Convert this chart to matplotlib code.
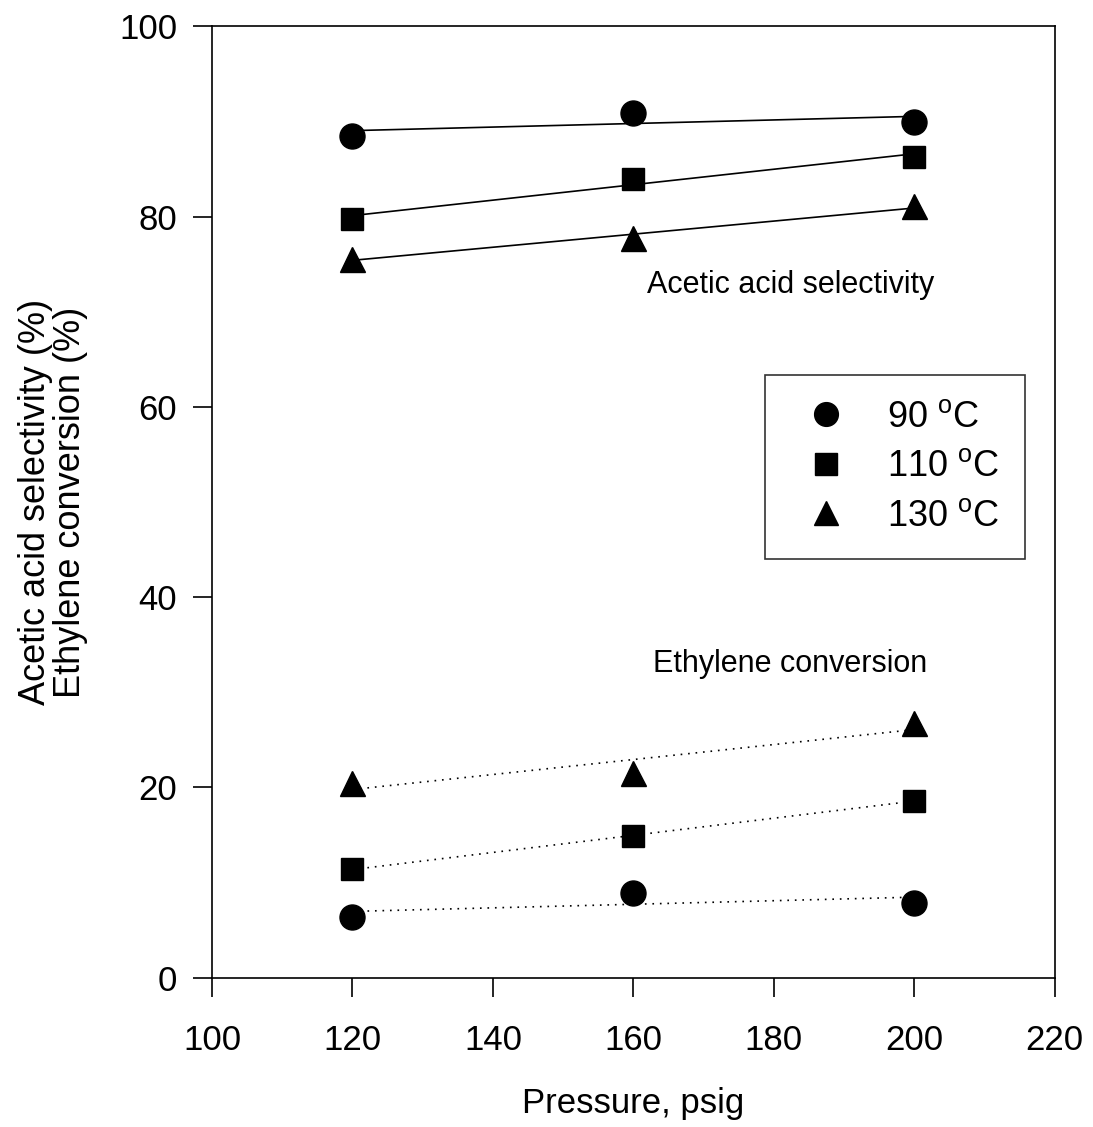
import numpy as np
import matplotlib
matplotlib.use("Agg")
import matplotlib.pyplot as plt
from matplotlib.lines import Line2D

plt.rcParams["font.family"] = ["Liberation Sans", "DejaVu Sans"]
plt.rcParams["mathtext.fontset"] = "custom"
plt.rcParams["mathtext.rm"] = "Liberation Sans"

# data
pressure = [120, 160, 200]
temps = ["90", "110", "130"]
selectivity_90 = [88.5, 90.9, 90.0]
selectivity_110 = [79.8, 84.0, 86.3]
selectivity_130 = [75.6, 77.8, 81.1]
conversion_90 = [6.4, 8.85, 7.9]
conversion_110 = [11.4, 14.9, 18.6]
conversion_130 = [20.5, 21.5, 26.8]

markers = ["o", "s", "^"]
msizes = [18, 16, 18]

fig = plt.figure(figsize=(10.93, 11.27), dpi=100)
ax = fig.add_axes([0.194, 0.1325, 0.771, 0.844])

sel = [selectivity_90, selectivity_110, selectivity_130]
conv = [conversion_90, conversion_110, conversion_130]
x = np.array(pressure, dtype=float)

for i in range(3):
    for series, ls in ((sel[i], "-"), (conv[i], (0, (1, 3.5)))):
        # linear fit through the points, as in the original figure
        k, b = np.polyfit(x, series, 1)
        ax.plot(x, k * x + b, color="black", lw=1.2, linestyle=ls, zorder=2)
        ax.plot(x, series, linestyle="none", marker=markers[i],
                markersize=msizes[i], color="black", zorder=3)

ax.text(162.0, 72.8, "Acetic acid selectivity", fontsize=22, va="center")
ax.text(162.8, 33.0, "Ethylene conversion", fontsize=22, va="center")

handles = [Line2D([], [], linestyle="none", marker=markers[i],
                  markersize=msizes[i] * 0.95, color="black")
           for i in range(3)]
labels = [t + r" $^{\mathrm{o}}$C" for t in temps]
leg = ax.legend(handles, labels, loc="upper left",
                bbox_to_anchor=(0.656, 0.634), fontsize=26, frameon=True,
                fancybox=False, edgecolor="black", borderpad=0.7,
                labelspacing=0.4, handlelength=1.98, handletextpad=0.7,
                borderaxespad=0)
leg.get_frame().set_linewidth(1.2)

ax.set_xlim(100, 220)
ax.set_ylim(0, 100)
ax.set_xticks(np.arange(100, 221, 20))
ax.set_yticks(np.arange(0, 101, 20))
ax.tick_params(direction="out", length=14, width=1.2, labelsize=25)
ax.tick_params(axis="x", pad=19)
ax.tick_params(axis="y", pad=11)
for s in ax.spines.values():
    s.set_linewidth(1.2)

ax.set_xlabel("Pressure, psig", fontsize=25, labelpad=22)
ax.set_ylabel("Acetic acid selectivity (%)\nEthylene conversion (%)",
              fontsize=26, linespacing=1.02)
ax.yaxis.set_label_coords(-0.147, 0.5)

fig.savefig("out.png", dpi=100)
